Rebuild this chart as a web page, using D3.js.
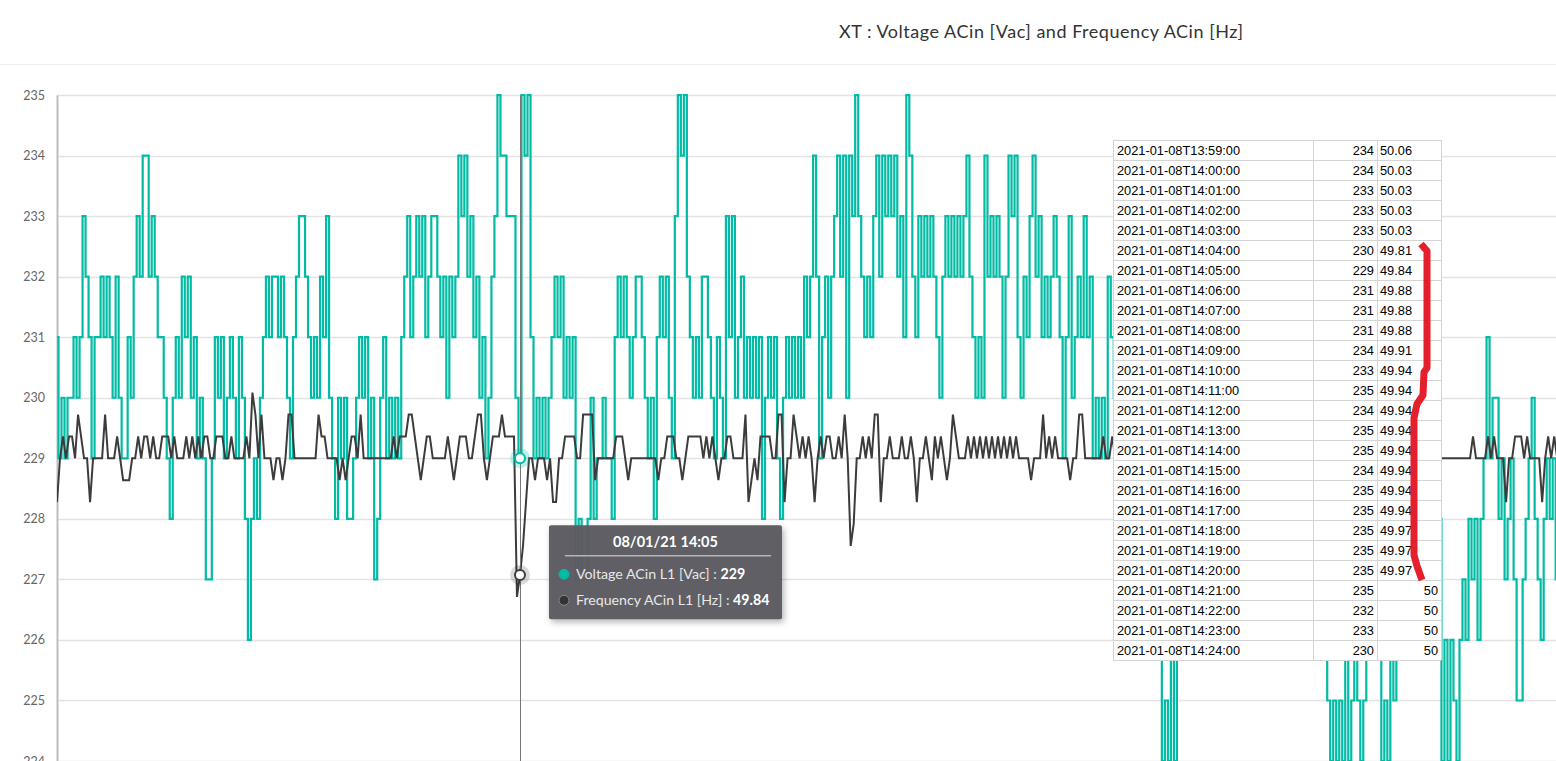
<!DOCTYPE html>
<html>
<head>
<meta charset="utf-8">
<script src="https://cdn.jsdelivr.net/npm/d3@7"></script>
<style>
	body { margin: 0; background: #fff; overflow: hidden; }
	svg { display: block; }
</style>
</head>
<body>
<svg id="chart" width="1556" height="761"></svg>
<script>
const titleText = "XT : Voltage ACin [Vac] and Frequency ACin [Hz]";
const yTicks = [224, 225, 226, 227, 228, 229, 230, 231, 232, 233, 234, 235];
const startTime = new Date(2021, 0, 8, 11, 31);
const hoverIndex = 154;
const voltageName = "Voltage ACin L1 [Vac]";
const frequencyName = "Frequency ACin L1 [Hz]";

const voltage = [
	231,229,230,229,230,230,231,230,231,233, 232,231,229,231,231,232,231,232,231,230,
	232,230,229,229,231,230,232,233,232,234, 234,232,233,232,231,231,230,229,228,230,
	231,230,232,231,232,230,231,229,230,229, 227,227,229,231,230,231,229,230,231,230,
	229,231,230,228,226,228,229,228,230,231, 232,231,232,232,231,232,231,230,229,231,
	232,233,233,232,231,230,231,230,232,231, 233,230,229,228,230,229,230,228,228,229,
	230,231,230,231,229,230,227,228,230,231, 229,230,229,230,229,231,232,233,231,232,
	233,232,233,231,232,233,233,232,231,232, 230,232,231,232,234,233,234,232,233,231,
	232,230,231,229,230,232,233,235,234,234, 233,233,233,230,229,235,234,235,231,229,
	230,229,230,229,230,231,232,231,232,230, 231,230,231,227,228,227,227,228,230,228,
	229,229,230,229,229,228,231,232,231,232, 231,230,231,232,232,231,230,229,230,228,
	231,232,231,232,230,229,233,235,234,235, 232,231,230,231,230,232,232,231,230,229,
	231,230,229,233,231,233,230,231,232,230, 231,230,231,230,231,228,230,231,230,231,
	229,228,230,231,230,231,230,231,230,232, 231,232,234,232,229,231,232,230,232,233,
	234,232,234,230,234,233,235,233,232,231, 232,231,233,234,232,234,233,234,233,234,
	232,233,231,235,234,232,231,233,232,233, 232,233,232,231,230,232,233,232,233,232,
	233,232,233,234,232,231,230,231,230,234, 232,233,232,233,232,230,232,234,233,234,
	231,230,232,231,233,234,232,233,231,232, 231,232,233,232,231,229,231,233,230,231,
	232,231,233,231,232,229,230,229,230,229, 232,231,230,231,230,229,230,231,230,229,
	231,230,232,231,230,229,228,226,224,225, 224,226,224,227,229,230,231,230,231,232,
	231,230,232,231,233,232,231,230,231,232, 233,232,231,232,233,234,232,231,230,231,
	232,231,230,229,230,231,230,229,231,230, 229,230,228,229,230,229,228,229,227,228,
	227,226,227,225,224,225,224,225,224,226, 224,225,226,225,224,225,226,227,228,227,
	226,224,225,224,226,225,227,228,226,227, 228,227,228,229,227,228,226,227,228,226,
	228,224,226,224,226,225,224,226,227,226, 228,227,228,226,228,229,231,229,230,230,
	228,229,227,228,229,227,225,225,227,228, 229,230,228,227,226,228,229,228,229,227
];

const frequency = [
	49.94,50,50.03,50,50.03,50.03,50,50.06,50.03,50, 50,49.94,50,50,50,50,50.06,50,50,50,
	50.03,50,49.97,49.97,49.97,50,50,50.03,50,50.03, 50.03,50,50.03,50,50,50.03,50.03,50.03,50,50.03,
	50,50,50,50.03,50,50.03,50,50.03,50,50.03, 50.03,50,50,50.03,50.03,50.03,50,50,50.03,50,
	50,50,50,50.03,50,50.09,50.06,50,50.06,50, 50,50,49.97,50,50,49.97,50,50.06,50.06,50,
	50,50,50,50,50,50,50,50.06,50.03,50.03, 50,50,50,50,49.97,50,49.97,50,50.03,50.03,
	50,50.06,50,50,50,50,50,50,50,50, 50,50,50.03,50,50.03,50.03,50.03,50.06,50.06,50.03,
	50,49.97,50,50.03,50.03,50,50,50,50,50, 50.03,50,49.97,50,50.03,50.03,50.03,50,50,50.03,
	50.06,50.06,50,49.97,50,50.03,50.03,50.03,50.06,50.03, 50.03,50.03,50.03,49.81,49.84,49.88,49.94,50,50,49.97,
	50,50,50,49.97,50,49.94,49.94,50,50,50.03, 50.03,50.03,50.03,50,50,50.06,50.06,50.06,50.06,49.97,
	50,50,50,50,50,50,50.03,50.03,50.03,50, 49.97,50,50,50,50,50,50,50,50,50,
	49.97,50,50,50.03,50.03,50.03,50,50,49.97,50, 50.03,50.03,50.03,50.03,50.03,50,50.03,50,50.03,50,
	49.97,50,50,50.03,50.03,50,50,50,50,50.06, 49.94,49.97,50,49.97,50.03,50.03,50.03,50.03,50,50,
	50.06,50.06,49.94,50,50,50.06,50.03,50,50.03,50, 50.03,50,49.94,50,50.03,50,50.03,50.03,50,50,
	50.03,50,50.06,50,49.88,49.91,50,50,50.03,50, 50.03,50,50.06,50.06,49.94,50,50,50.03,50,50,
	50,50.03,50,50,50.03,50,49.94,50,50,50.03, 50,49.97,50.03,50,50.03,50,49.97,50,50.06,50.03,
	50,50,50,50.03,50,50.03,50,50.03,50,50.03, 50,50.03,50,50.03,50,50.03,50,50.03,50,50.03,
	50,50,50,50,49.97,50,50,50,50.06,50, 50.03,50,50.03,50,50,50,50,49.97,50,50,
	50.06,50.06,50,50,50,50,50,50,50.03,50, 50,50.03,50,50,50.03,50,50,50,50,50.03,
	50,50,50,49.97,50,50,50,50.03,50,50, 50,50,50,50.03,50,50,50,50,49.97,50,
	50,50.03,50,50,50,50,50.03,50,50,50, 50,50,50.03,50,50,49.97,50,50,50.03,50,
	50,50,50,50,50.03,50,50,50,50,50, 50.03,50,50,50,50,49.97,50,50,50,50.03,
	50,50,50,50,50,50.03,50,50,50,50, 50,50.03,50,50,50,50,49.97,50,50,50,
	50,50,50.03,50,50,50,50,50,50.03,50, 50,50,50,50,50.03,50,50,50,50,50,
	50,50,50,50,50,50,50,50,50,50, 50,50.03,50,50,50,50,50.03,50,50.03,50,
	50,50,49.94,50,50,50.03,50.03,50.03,50,50.03, 50,50,50,50,49.94,50,50.03,50,50.03,50
];

const tableTimes = [
	"2021-01-08T13:59:00", "2021-01-08T14:00:00", "2021-01-08T14:01:00", "2021-01-08T14:02:00",
	"2021-01-08T14:03:00", "2021-01-08T14:04:00", "2021-01-08T14:05:00", "2021-01-08T14:06:00",
	"2021-01-08T14:07:00", "2021-01-08T14:08:00", "2021-01-08T14:09:00", "2021-01-08T14:10:00",
	"2021-01-08T14:11:00", "2021-01-08T14:12:00", "2021-01-08T14:13:00", "2021-01-08T14:14:00",
	"2021-01-08T14:15:00", "2021-01-08T14:16:00", "2021-01-08T14:17:00", "2021-01-08T14:18:00",
	"2021-01-08T14:19:00", "2021-01-08T14:20:00", "2021-01-08T14:21:00", "2021-01-08T14:22:00",
	"2021-01-08T14:23:00", "2021-01-08T14:24:00"
];
const tableVoltage = [234, 234, 233, 233, 233, 230, 229, 231, 231, 231, 234, 233, 235, 234, 235, 235, 234, 235, 235, 235, 235, 235, 235, 232, 233, 230];
const tableFrequency = ["50.06", "50.03", "50.03", "50.03", "50.03", "49.81", "49.84", "49.88", "49.88", "49.88", "49.91", "49.94", "49.94", "49.94", "49.94", "49.94", "49.94", "49.94", "49.94", "49.97", "49.97", "49.97", "50", "50", "50", "50"];

const width = 1556;
const height = 761;
const plotLeft = 57;
const plotTop = 95;
const teal = "#02bba4";
const dark = "#3c3c3c";
const font = "Lato, 'Open Sans', sans-serif";

const chart = d3.select("#chart");

const times = voltage.map((v, i) => d3.timeMinute.offset(startTime, i));

const x = d3.scaleTime()
	.domain([times[0], times[times.length - 1]])
	.range([plotLeft, 1557.2]);

const y = d3.scaleLinear()
	.domain([224, 235])
	.range([plotTop + 11 * 60.55, plotTop]);

// frequency lives on a hidden second axis, 50 Hz sits on the 229 line
const yf = d3.scaleLinear()
	.domain([50 - 5 * 0.083, 50 + 6 * 0.083])
	.range(y.range());

chart.append("text")
	.text(titleText)
	.attr("x", 1041)
	.attr("y", 38)
	.attr("text-anchor", "middle")
	.attr("font-family", font)
	.attr("font-size", 18)
	.attr("fill", "#333")
	.attr("textLength", 404);

chart.append("line")
	.attr("x1", 0)
	.attr("x2", width)
	.attr("y1", 64.5)
	.attr("y2", 64.5)
	.attr("stroke", "#efefef");

const grid = chart.append("g");
grid.selectAll("line")
	.data(yTicks)
	.enter()
	.append("line")
	.attr("x1", plotLeft)
	.attr("x2", width)
	.attr("y1", d => Math.round(y(d)) + 0.5)
	.attr("y2", d => Math.round(y(d)) + 0.5)
	.attr("stroke", "#e3e3e3")
	.attr("stroke-width", 1.5);

const yAxis = chart.append("g")
	.attr("transform", "translate(" + plotLeft + ",0)")
	.call(d3.axisLeft(y).tickValues(yTicks).tickSize(0).tickPadding(12));
yAxis.select(".domain")
	.attr("stroke", "#bdbdbd")
	.attr("stroke-width", 2);
yAxis.selectAll("text")
	.attr("font-family", font)
	.attr("font-size", 12.5)
	.attr("fill", "#666");

chart.append("clipPath")
	.attr("id", "plot")
	.append("rect")
	.attr("x", plotLeft)
	.attr("y", plotTop - 2)
	.attr("width", width - plotLeft)
	.attr("height", height - plotTop + 2);

const series = chart.append("g").attr("clip-path", "url(#plot)");

series.append("path")
	.datum(voltage)
	.attr("fill", "none")
	.attr("stroke", teal)
	.attr("stroke-width", 2.2)
	.attr("d", d3.line().curve(d3.curveStep).x((d, i) => x(times[i])).y(d => y(d)));

series.append("path")
	.datum(frequency)
	.attr("fill", "none")
	.attr("stroke", dark)
	.attr("stroke-width", 2)
	.attr("d", d3.line().x((d, i) => x(times[i])).y(d => yf(d)));

// hover state
const hx = x(times[hoverIndex]);
const hv = y(voltage[hoverIndex]);
const hf = yf(frequency[hoverIndex]);

chart.append("line")
	.attr("x1", Math.round(hx) + 0.5)
	.attr("x2", Math.round(hx) + 0.5)
	.attr("y1", plotTop)
	.attr("y2", height)
	.attr("stroke", "#777")
	.attr("stroke-width", 1);

chart.append("circle")
	.attr("cx", hx).attr("cy", hv).attr("r", 10)
	.attr("fill", teal).attr("opacity", 0.25);
chart.append("circle")
	.attr("cx", hx).attr("cy", hv).attr("r", 5)
	.attr("fill", "#fff").attr("stroke", teal).attr("stroke-width", 2);
chart.append("circle")
	.attr("cx", hx).attr("cy", hf).attr("r", 10)
	.attr("fill", "#000").attr("opacity", 0.15);
chart.append("circle")
	.attr("cx", hx).attr("cy", hf).attr("r", 5)
	.attr("fill", "#fff").attr("stroke", dark).attr("stroke-width", 2);

const defs = chart.append("defs");
const shadow = defs.append("filter").attr("id", "shadow")
	.attr("x", "-10%").attr("y", "-10%").attr("width", "130%").attr("height", "140%");
shadow.append("feDropShadow")
	.attr("dx", 2).attr("dy", 3).attr("stdDeviation", 3)
	.attr("flood-color", "#000").attr("flood-opacity", 0.3);

const tip = chart.append("g")
	.attr("transform", "translate(" + (hx + 29) + "," + (hv + 67) + ")");
tip.append("rect")
	.attr("width", 233)
	.attr("height", 94)
	.attr("rx", 2)
	.attr("fill", "#5b5c62")
	.attr("fill-opacity", 0.97)
	.attr("filter", "url(#shadow)");
tip.append("text")
	.text(d3.timeFormat("%d/%m/%y %H:%M")(times[hoverIndex]))
	.attr("x", 116.5)
	.attr("y", 22)
	.attr("text-anchor", "middle")
	.attr("font-family", font)
	.attr("font-weight", "bold")
	.attr("font-size", 14.5)
	.attr("fill", "#fff");
tip.append("line")
	.attr("x1", 16).attr("x2", 222)
	.attr("y1", 30.5).attr("y2", 30.5)
	.attr("stroke", "#b5b5b8").attr("stroke-width", 1.5);

const rows = [
	{ name: voltageName, value: voltage[hoverIndex], color: teal, stroke: teal },
	{ name: frequencyName, value: frequency[hoverIndex].toFixed(2), color: "#333", stroke: "#888" }
];
const row = tip.selectAll("g.row")
	.data(rows)
	.enter()
	.append("g")
	.attr("transform", (d, i) => "translate(0," + (49 + i * 26) + ")");
row.append("circle")
	.attr("cx", 15).attr("cy", 0).attr("r", 5)
	.attr("fill", d => d.color)
	.attr("stroke", d => d.stroke)
	.attr("stroke-width", 1);
const rowText = row.append("text")
	.attr("x", 27)
	.attr("y", 5)
	.attr("font-family", font)
	.attr("font-size", 14.2)
	.attr("fill", "#e8e8e8");
rowText.append("tspan").text(d => d.name + " : ");
rowText.append("tspan").text(d => d.value)
	.attr("font-weight", "bold")
	.attr("fill", "#fff");

// pasted spreadsheet excerpt
const tableX = 1113;
const tableY = 140;
const rowH = 20;
const cols = [tableX, 1313, 1377, 1441];

const table = chart.append("g");
table.append("rect")
	.attr("x", tableX)
	.attr("y", tableY)
	.attr("width", cols[3] - tableX)
	.attr("height", rowH * tableTimes.length)
	.attr("fill", "#fff");

table.selectAll("line.h")
	.data(d3.range(tableTimes.length + 1))
	.enter()
	.append("line")
	.attr("x1", tableX).attr("x2", cols[3])
	.attr("y1", d => tableY + d * rowH + 0.5)
	.attr("y2", d => tableY + d * rowH + 0.5)
	.attr("stroke", "#d4d4d4");
table.selectAll("line.v")
	.data(cols)
	.enter()
	.append("line")
	.attr("x1", d => d + 0.5).attr("x2", d => d + 0.5)
	.attr("y1", tableY)
	.attr("y2", tableY + rowH * tableTimes.length)
	.attr("stroke", "#d4d4d4");

const cells = table.selectAll("g.cell")
	.data(tableTimes)
	.enter()
	.append("g")
	.attr("font-family", "'Liberation Sans', Arial, sans-serif")
	.attr("font-size", 12.8)
	.attr("fill", "#000")
	.attr("transform", (d, i) => "translate(0," + (tableY + i * rowH + 15) + ")");
cells.append("text")
	.text(d => d)
	.attr("x", tableX + 4);
cells.append("text")
	.text((d, i) => tableVoltage[i])
	.attr("x", cols[2] - 3)
	.attr("text-anchor", "end");
cells.append("text")
	.text((d, i) => tableFrequency[i])
	.attr("x", (d, i) => tableFrequency[i].includes(".") ? cols[2] + 3 : cols[3] - 3)
	.attr("text-anchor", (d, i) => tableFrequency[i].includes(".") ? "start" : "end");

// red marker drawn over the falling frequency rows
const mark = [[1421, 244], [1427, 251], [1427, 368], [1424, 372], [1423, 395], [1417, 404], [1414, 418], [1414, 555], [1417, 566], [1422, 580]];
table.append("path")
	.attr("d", d3.line()(mark))
	.attr("fill", "none")
	.attr("stroke", "#e3202b")
	.attr("stroke-width", 7)
	.attr("stroke-linejoin", "round");
</script>
</body>
</html>
